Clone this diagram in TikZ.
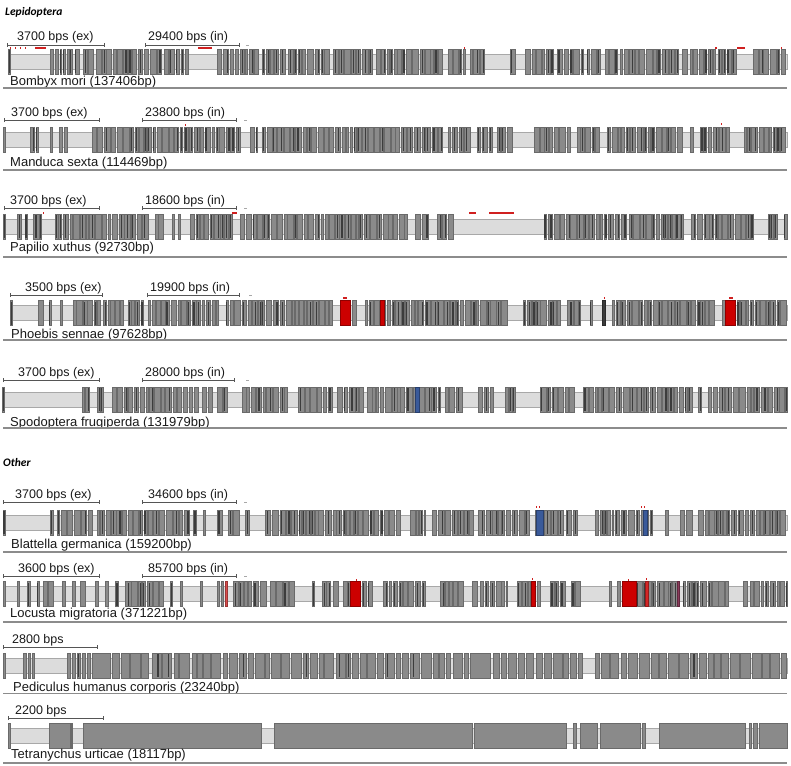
\documentclass[tikz,border=0pt]{standalone}
\usepackage{fontspec}
\setmainfont{Liberation Sans}
\newfontfamily\headfont{Carlito}
\usetikzlibrary{arrows.meta}
\definecolor{exfill}{HTML}{8A8A8A}
\definecolor{exedge}{HTML}{6A6A6A}
\definecolor{exdark}{HTML}{3C3C3C}
\definecolor{bandfill}{HTML}{DCDCDC}
\definecolor{bandedge}{HTML}{A8A8A8}
\definecolor{barcol}{HTML}{555555}
\definecolor{txtcol}{HTML}{1A1A1A}
\definecolor{basecol}{HTML}{8C8C8C}
\definecolor{redex}{HTML}{CC0000}
\definecolor{redmark}{HTML}{D02020}
\definecolor{blueex}{HTML}{3A5A9A}
\definecolor{maroon}{HTML}{8A3A5A}
\tikzset{
  exon/.style={fill=exfill, draw=exedge, line width=0.45pt},
  band/.style={fill=bandfill, draw=bandedge, line width=0.6pt},
  sbar/.style={draw=barcol, line width=0.6pt, {Bar[width=4pt]}-{Bar[width=4pt]}},
  lbl/.style={font=\fontsize{12.5}{14}\selectfont, inner sep=0pt, anchor=base west, text=txtcol},
  slbl/.style={font=\fontsize{13}{15}\selectfont, inner sep=0pt, anchor=base west, text=txtcol},
  head/.style={font=\headfont\bfseries\itshape\fontsize{11.5}{13}\selectfont, inner sep=0pt, anchor=base west},
  baseln/.style={draw=basecol, line width=1.3pt},
  tick/.style={draw=bandedge, line width=0.8pt},
}
\def\exdarkp{0.5}
\def\exwmin{2}\def\exwvar{4}\def\exgmin{0.4}\def\exgvar{1.8}
\newcommand\exon[3]{%
  \draw[exon] (#1,#3-12.5) rectangle (#2,#3+12.5);
  \pgfmathsetmacro\exr{rnd}%
  \ifdim\exr pt<\exdarkp pt
    \pgfmathsetmacro\exm{#1+(#2-#1)*(0.2+0.6*rnd)}%
    \fill[exdark] (\exm-0.6,#3-11.5) rectangle (\exm+0.6,#3+11.5);
  \fi
}
\newcommand\cexon[4]{\draw[fill=#4, draw=#4!70!black, line width=0.45pt] (#1,#3-12.5) rectangle (#2,#3+12.5);}
\newcommand\exrun[3]{%
  \pgfmathsetmacro\exx{#1}%
  \loop
    \pgfmathsetmacro\exw{\exwmin+\exwvar*rnd}%
    \pgfmathsetmacro\exe{min(\exx+\exw,#2)}%
    \exon{\exx}{\exe}{#3}%
    \pgfmathsetmacro\exx{\exe+\exgmin+\exgvar*rnd}%
    \pgfmathtruncatemacro\excont{\exx<#2-1?1:0}%
  \ifnum\excont=1
  \repeat
}
\newcommand\track[3]{\draw[band] (#1,#3-7.5) rectangle (#2,#3+7.5);}
\newcommand\sbarr[6]{%
  \coordinate (#1a) at (#2,#4);
  \coordinate (#1b) at (#3,#4);
  \draw[sbar] (#1a) -- (#1b);
  \node[lbl] (#1t) at (#5,#4-4) {#6};
}
\newcommand\baseline[2]{%
  \coordinate (#1l) at (3,#2);
  \coordinate (#1r) at (787,#2);
  \draw[baseln] (#1l) -- (#1r);
}
\newcommand\redm[4][redmark]{\fill[#1] (#2,#4-1) rectangle (#3,#4+1);}
\begin{document}
\begin{tikzpicture}[x=1pt,y=-1pt]
\pgfmathsetseed{1234}
\useasboundingbox (0,0) rectangle (791,765);
\fill[white] (0,0) rectangle (791,765);

\node[head] (hlep) at (5,16) {Lepidoptera};
\node[head] (hoth) at (3,466) {Other};

% ===== Bombyx mori =====
\sbarr{bma}{7}{105}{45}{17}{3700 bps (ex)}
\sbarr{bmb}{145}{240}{45}{148}{29400 bps (in)}
\draw[tick] (246,45) -- (249,45);
\track{9}{787}{62}
\exon{8.5}{10}{62}
\foreach \a/\b in {50/61,63/72,75/80,83/183,185/188,217/258,262/285,288/330,333/372,376/442,448/465,470/487,510/517,525/553,557/583,587/600,605/617,620/680,682/687,690/715,718/737,753/787}{\exrun{\a}{\b}{62}}
\redm{10}{11}{48}\redm{15}{16}{48}\redm{20}{21}{48}\redm{25}{26}{48}
\redm{35}{46}{48}\redm{198}{212}{48}\redm{464}{465}{48}\redm{715}{717}{48}\redm{737}{745}{48}\redm{781}{782}{48}
\node[slbl] (bm) at (10,85) {Bombyx mori (137406bp)};
\baseline{bml}{88}

% ===== Manduca sexta =====
\sbarr{msa}{4}{100}{120}{11}{3700 bps (ex)}
\sbarr{msb}{142}{237}{120}{145}{23800 bps (in)}
\draw[tick] (244,120) -- (247,120);
\track{4}{787}{139.5}
\exon{3.5}{5}{139.5}
\foreach \a/\b in {30/38,50/52,59/62,64/67,92/240,250/257,262/442,448/470,477/492,497/513,534/570,577/600,607/685,690/693,700/730,744/787}{\exrun{\a}{\b}{139.5}}
\redm{185}{186}{125}\redm{721}{722}{124}
\node[slbl] (ms) at (10,166) {Manduca sexta (114469bp)};
\baseline{msl}{170}

% ===== Papilio xuthus =====
\sbarr{pxa}{4}{100}{208}{10}{3700 bps (ex)}
\sbarr{pxb}{142}{237}{208}{145}{18600 bps (in)}
\draw[tick] (244,208) -- (247,208);
\track{4}{787}{226.5}
\exon{3.5}{5}{226.5}
\foreach \a/\b in {17/21,25/27,33/41,55/148,155/163,172/174,178/180,190/232,240/407,415/430,437/453,544/683,691/753,768/777,784/787}{\exrun{\a}{\b}{226.5}}
\redm{43}{44}{213}\redm{232}{237}{213}\redm{469}{476}{213}\redm{489}{514}{213}
\node[slbl] (px) at (10,251) {Papilio xuthus (92730bp)};
\baseline{pxl}{257}

% ===== Phoebis sennae =====
\sbarr{psa}{10}{103}{295}{25}{3500 bps (ex)}
\sbarr{psb}{147}{240}{295}{150}{19900 bps (in)}
\draw[tick] (249,295) -- (252,295);
\track{11}{787}{313}
\exon{10.5}{12}{313}
\foreach \a/\b in {38/43,49/51,60/62,73/100,103/125,128/143,148/218,226/228,230/332,352/357,365/508,523/560,567/580,590/592,612/715,722/725,737/787}{\exrun{\a}{\b}{313}}
\cexon{602}{605}{313}{exdark}
\cexon{340}{350}{313}{redex}
\cexon{380}{384}{313}{redex}
\cexon{725}{735}{313}{redex}
\redm{343}{347}{298}\redm{604}{605}{298}\redm{729}{733}{298}
\node[slbl] (ps) at (11,338) {Phoebis sennae (97628bp)};
\baseline{psl}{340}

% ===== Spodoptera frugiperda =====
\sbarr{sfa}{3}{100}{380}{18}{3700 bps (ex)}
\sbarr{sfb}{142}{235}{380}{145}{28000 bps (in)}
\draw[tick] (246,380) -- (249,380);
\track{3}{787}{399.5}
\exon{2.5}{4}{399.5}
\foreach \a/\b in {82/90,97/105,112/200,202/213,217/230,242/287,298/333,337/363,367/440,445/462,478/493,505/515,540/575,583/692,698/701,708/787}{\exrun{\a}{\b}{399.5}}
\cexon{415}{419}{399.5}{blueex}
\node[slbl] (sf) at (10,426) {Spodoptera frugiperda (131979bp)};
\baseline{sfl}{428}

% ===== Blattella germanica =====
\sbarr{bga}{3}{100}{502}{15}{3700 bps (ex)}
\sbarr{bgb}{142}{237}{502}{148}{34600 bps (in)}
\draw[tick] (244,502) -- (247,502);
\track{4}{787}{522.5}
\exon{3.5}{5}{522.5}
\foreach \a/\b in {50/53,57/92,97/190,193/196,203/205,217/222,228/240,245/250,265/400,410/425,432/475,478/530,535/578,595/613,615/652,665/668,680/692,698/787}{\exrun{\a}{\b}{522.5}}
\cexon{536}{543}{522.5}{blueex}
\cexon{643}{647}{522.5}{blueex}
\redm{536}{537}{507}\redm{539}{540}{507}\redm{641}{642}{507}\redm{644}{645}{507}
\node[slbl] (bg) at (11,548) {Blattella germanica (159200bp)};
\baseline{bgl}{552}

% ===== Locusta migratoria =====
\sbarr{lma}{3}{100}{576}{18}{3600 bps (ex)}
\sbarr{lmb}{142}{237}{576}{148}{85700 bps (in)}
\draw[tick] (244,576) -- (247,576);
\track{4}{787}{594}
\exon{3.5}{5}{594}
\foreach \a/\b in {17/19,27/30,37/39,43/55,62/66,72/75,80/87,95/100,105/108,115/118,125/163,170/172,180/182,200/202,217/224,233/266,270/297,312/314,322/330,333/340,343/350,362/373,383/387,389/425,440/465,472/477,480/488,490/507,517/530,537/540,550/565,571/580,609/612,617/621,636/645,648/677,683/730,743/747,750/787}{\exrun{\a}{\b}{594}}
\cexon{225}{227}{594}{redex!70!white}
\cexon{350}{360}{594}{redex}
\cexon{531}{535}{594}{redex}
\cexon{622}{636}{594}{redex}
\cexon{645}{648}{594}{redex!85!white}
\cexon{677}{679}{594}{maroon}
\redm{356}{357}{580}\redm{532}{533}{579}\redm{628}{629}{580}\redm{646}{647}{579}
\node[slbl] (lm) at (10,617) {Locusta migratoria (371221bp)};
\baseline{lml}{622}

% ===== Pediculus humanus corporis =====
\sbarr{pha}{3}{98}{647}{12}{2800 bps}
\track{4}{787}{665.5}
\exon{3.5}{5}{665.5}
\def\exdarkp{0.12}
\foreach \a/\b in {23/26,28/30,32/34,67/70,72/75,77/80,82/85,87/91}{\exrun{\a}{\b}{665.5}}
\def\exwmin{4}\def\exwvar{6}\def\exgmin{1}\def\exgvar{1.5}
\exon{92}{110}{665.5}
\foreach \a/\b in {112/150,152/468,493/585,595/787}{\exrun{\a}{\b}{665.5}}
\exon{470}{490}{665.5}
\node[slbl] (ph) at (13,691) {Pediculus humanus corporis (23240bp)};
\baseline{phl}{693.5}

% ===== Tetranychus urticae =====
\sbarr{tua}{8}{104}{718}{15}{2200 bps}
\track{9}{787}{735.5}
\def\exdarkp{0}
\foreach \a/\b in {8.5/10,49/70,71/72,83/261,274/472,474/566,573/576,580/597,600/640,642/645,659/745,749/751,753/757,759/787}{\exon{\a}{\b}{735.5}}
\node[slbl] (tu) at (11,758) {Tetranychus urticae (18117bp)};
\baseline{tul}{763}
\end{tikzpicture}
\end{document}
